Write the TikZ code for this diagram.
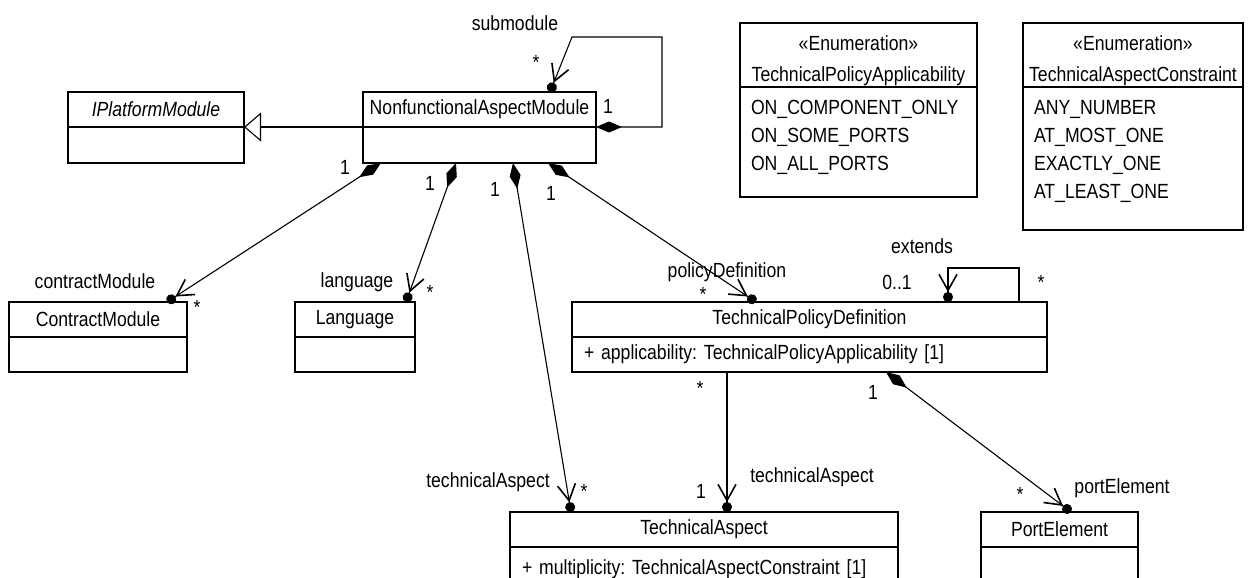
\documentclass[tikz,border=0pt]{standalone}
\usepackage{fontspec}
\newfontfamily\umlfont{Liberation Sans}[FakeStretch=0.86]
\usetikzlibrary{arrows.meta,positioning}
\frenchspacing

\tikzset{
  umlhead/.style={draw, line width=1.4pt, outer sep=0pt, minimum width=#1, minimum height=35pt},
  umlbody/.style={draw, line width=1.4pt, outer sep=0pt, minimum width=#1, minimum height=36pt},
  umlattr/.style={draw, line width=1.4pt, outer sep=0pt, text width=#1, align=left, inner xsep=12pt, minimum height=35pt},
  lbl/.style={inner sep=0pt},
  comp/.style={line width=1.1pt, {Diamond[length=26pt,width=11pt]}-{Straight Barb[length=16pt,width=18pt,line width=1.6pt]Circle[length=10pt]}},
  assoc/.style={line width=1.1pt, -{Straight Barb[length=16pt,width=18pt,line width=1.6pt]Circle[length=10pt]}},
  gen/.style={line width=1.1pt, -{Triangle[open,length=17pt,width=29pt]}}
}

\begin{document}
\begin{tikzpicture}[x=1pt,y=-1pt,font=\umlfont\fontsize{20.5}{24}\selectfont]
  \useasboundingbox[fill=white] (0,0) rectangle (1258,578);

  % classes
  \node[umlhead=176pt] (ipmH) at (156,109.5) {\itshape IPlatformModule};
  \node[umlbody=176pt, below=0pt of ipmH] (ipmB) {};
  \node[umlhead=233pt] (namH) at (479.5,109.5) {NonfunctionalAspectModule};
  \node[umlbody=233pt, below=0pt of namH] (namB) {};
  \node[umlhead=178pt] (cmH) at (98,319.5) {ContractModule};
  \node[umlbody=178pt, minimum height=35pt, below=0pt of cmH] (cmB) {};
  \node[umlhead=120pt] (langH) at (355,319.5) {Language};
  \node[umlbody=120pt, minimum height=35pt, below=0pt of langH] (langB) {};
  \node[umlhead=475pt] (tpdH) at (809.5,319.5) {TechnicalPolicyDefinition};
  \node[umlattr=451pt, below=0pt of tpdH] (tpdB) {+ applicability: TechnicalPolicyApplicability [1]};
  \node[umlhead=388pt] (taH) at (704,529.5) {TechnicalAspect};
  \node[umlattr=364pt, minimum height=45pt, below=0pt of taH] (taB) {+ multiplicity: TechnicalAspectConstraint [1]};
  \node[umlhead=157pt] (peH) at (1059.5,529.5) {PortElement};
  \node[umlbody=157pt, minimum height=45pt, below=0pt of peH] (peB) {};

  % enumerations
  \node[umlhead=237pt, text width=230pt, align=center, inner ysep=4pt, text height=24pt, text depth=32pt,
        font=\umlfont\fontsize{20.5}{31}\selectfont, anchor=north] (applH) at (858.5,23)
        {«Enumeration»\\TechnicalPolicyApplicability};
  \node[umlattr=215pt, inner xsep=11pt, inner ysep=4pt, text height=23pt, text depth=79pt,
        font=\umlfont\fontsize{20.5}{28}\selectfont, below=0pt of applH] (applB)
        {ON\_COMPONENT\_ONLY\\ON\_SOME\_PORTS\\ON\_ALL\_PORTS};
  \node[umlhead=220pt, text width=213pt, align=center, inner ysep=4pt, text height=24pt, text depth=32pt,
        font=\umlfont\fontsize{20.5}{31}\selectfont, anchor=north] (consH) at (1133,23)
        {«Enumeration»\\TechnicalAspectConstraint};
  \node[umlattr=198pt, inner xsep=11pt, inner ysep=4pt, text height=23pt, text depth=112pt,
        font=\umlfont\fontsize{20.5}{28}\selectfont, below=0pt of consH] (consB)
        {ANY\_NUMBER\\AT\_MOST\_ONE\\EXACTLY\_ONE\\AT\_LEAST\_ONE};

  % connectors
  \draw[gen] (namH.south west) -- (ipmH.south east);
  \draw[comp] (namH.south east) -- ++(66,0) -- ++(0,-90) -- ++(-90,0) -- ([xshift=187pt]namH.north west);
  \draw[comp] ([xshift=18pt]namB.south west) -- ([xshift=158pt]cmH.north west);
  \draw[comp] ([xshift=93pt]namB.south west) -- ([xshift=111pt]langH.north west);
  \draw[comp] ([xshift=150pt]namB.south west) -- ([xshift=61pt]taH.north west);
  \draw[comp] ([xshift=185pt]namB.south west) -- ([xshift=184pt]tpdH.north west);
  \draw[assoc] ([xshift=155pt]tpdB.south west) -- ([xshift=217pt]taH.north west);
  \draw[comp] ([xshift=314pt]tpdB.south west) -- ([xshift=90pt]peH.north west);
  \draw[assoc] ([xshift=447pt]tpdH.north west) -- ++(0,-34) -| ([xshift=376pt]tpdH.north west);

  % role names and multiplicities
  \node[lbl] (subRole) at (515,23) {submodule};
  \node[lbl] (subMany) at (536,62) {*};
  \node[lbl] (subOne) at (608,106) {1};
  \node[lbl] (cmOne) at (345,167) {1};
  \node[lbl] (cmRole) at (95,281) {contractModule};
  \node[lbl] (cmMany) at (197,307) {*};
  \node[lbl] (langOne) at (430,183) {1};
  \node[lbl] (langRole) at (357,282) {language};
  \node[lbl] (langMany) at (430,292) {*};
  \node[lbl] (taOne) at (495,189) {1};
  \node[lbl] (taRole) at (488,482) {technicalAspect};
  \node[lbl] (taMany) at (584,491) {*};
  \node[lbl] (tpdOne) at (551,193) {1};
  \node[lbl] (tpdRole) at (727,272) {policyDefinition};
  \node[lbl] (tpdMany) at (703,294) {*};
  \node[lbl] (extRole) at (922,246) {extends};
  \node[lbl] (extOpt) at (897,282) {0..1};
  \node[lbl] (extMany) at (1041,282) {*};
  \node[lbl] (aspMany) at (700,388) {*};
  \node[lbl] (aspOne) at (701,491) {1};
  \node[lbl] (aspRole) at (812,477) {technicalAspect};
  \node[lbl] (peOne) at (873,392) {1};
  \node[lbl] (peMany) at (1020,494) {*};
  \node[lbl] (peRole) at (1122,488) {portElement};
\end{tikzpicture}
\end{document}
